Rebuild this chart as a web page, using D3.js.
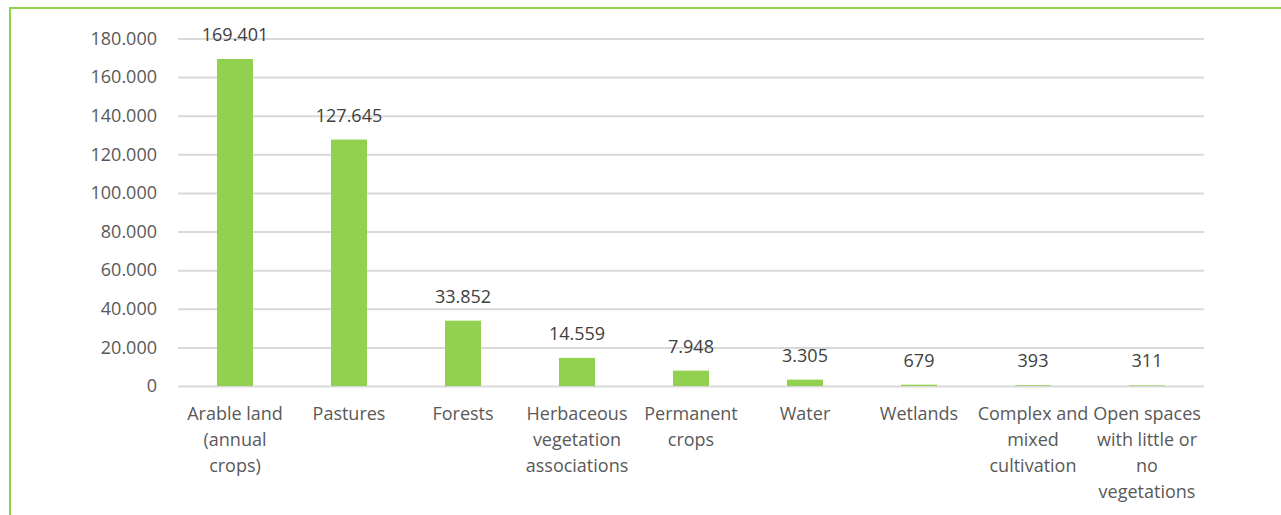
<!DOCTYPE html>
<html>
<head>
<meta charset="utf-8">
<script src="https://cdn.jsdelivr.net/npm/d3@7.9.0/dist/d3.min.js"></script>
<style>
  html, body { margin: 0; padding: 0; background: #fff; }
  svg { display: block; font-family: 'Open Sans', sans-serif; }
</style>
</head>
<body>
<div id="chart"></div>
<script>
const categories = [
  ['Arable land', '(annual', 'crops)'],
  ['Pastures'],
  ['Forests'],
  ['Herbaceous', 'vegetation', 'associations'],
  ['Permanent', 'crops'],
  ['Water'],
  ['Wetlands'],
  ['Complex and', 'mixed', 'cultivation'],
  ['Open spaces', 'with little or', 'no', 'vegetations'],
];
const values = [169401, 127645, 33852, 14559, 7948, 3305, 679, 393, 311];
const yTicks = [0, 20000, 40000, 60000, 80000, 100000, 120000, 140000, 160000, 180000];

const width = 1281;
const height = 515;
const green = '#92d050';
const textColor = '#595959';

const locale = d3.formatLocale({ decimal: ',', thousands: '.', grouping: [3], currency: ['', ''] });
const fmt = locale.format(',d');

const svg = d3
  .select('#chart')
  .append('svg')
  .attr('width', width)
  .attr('height', height);

// outer frame (runs off the right and bottom edges)
svg
  .append('rect')
  .attr('x', 10)
  .attr('y', 8)
  .attr('width', width + 20)
  .attr('height', height + 20)
  .attr('fill', 'none')
  .attr('stroke', green)
  .attr('stroke-width', 2);

const plot = { left: 178, right: 1204, top: 38.5, bottom: 386 };

const xScale = d3
  .scaleBand()
  .domain(d3.range(categories.length))
  .range([plot.left, plot.right])
  .paddingInner(0.684)
  .paddingOuter(0.342);

const yScale = d3.scaleLinear().domain([0, 180000]).range([plot.bottom, plot.top]);

// gridlines + y labels
const yAxis = svg.append('g').attr('transform', `translate(${plot.left}, 0)`);
yAxis.call(
  d3
    .axisLeft(yScale)
    .tickValues(yTicks)
    .tickSize(-(plot.right - plot.left))
    .tickPadding(21)
    .tickFormat(fmt)
);
yAxis.select('.domain').remove();
yAxis.selectAll('.tick line').attr('stroke', '#d9d9d9').attr('stroke-width', 2);
yAxis
  .selectAll('.tick text')
  .attr('fill', textColor)
  .attr('font-size', 18)
  .attr('font-family', "'Open Sans', sans-serif");

// bars
svg
  .append('g')
  .selectAll('rect')
  .data(values)
  .join('rect')
  .attr('x', (d, i) => xScale(i))
  .attr('y', (d) => yScale(d))
  .attr('width', xScale.bandwidth())
  .attr('height', (d) => plot.bottom - yScale(d))
  .attr('fill', green);

// value labels
svg
  .append('g')
  .selectAll('text')
  .data(values)
  .join('text')
  .attr('x', (d, i) => xScale(i) + xScale.bandwidth() / 2)
  .attr('y', (d) => yScale(d) - 18)
  .attr('text-anchor', 'middle')
  .attr('fill', '#404040')
  .attr('font-size', 18)
  .text((d) => fmt(d));

// category labels
const catLabels = svg
  .append('g')
  .selectAll('text')
  .data(categories)
  .join('text')
  .attr('text-anchor', 'middle')
  .attr('fill', textColor)
  .attr('font-size', 18);

catLabels
  .selectAll('tspan')
  .data((d, i) => d.map((line) => ({ line, i })))
  .join('tspan')
  .attr('x', (d) => xScale(d.i) + xScale.bandwidth() / 2)
  .attr('y', (d, j) => 420 + j * 26)
  .text((d) => d.line);
</script>
</body>
</html>
